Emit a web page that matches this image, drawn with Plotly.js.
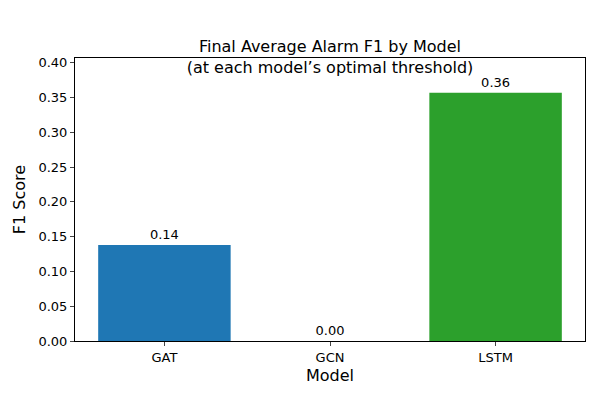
<!DOCTYPE html>
<html><head><script src="https://cdn.plot.ly/plotly-3.0.1.min.js"></script></head>
<body style="margin:0">
<div id="c" style="width:600px;height:400px"></div>
<script>
const models = ["GAT", "GCN", "LSTM"];
const f1 = [0.138, 0.0, 0.357];
const labels = ["0.14", "0.00", "0.36"];
const colors = ["#1f77b4", "#ff7f0e", "#2ca02c"];
Plotly.newPlot("c", [{
  type: "bar", x: [0,1,2], y: f1, width: 0.8,
  marker: {color: colors},
  text: labels, textposition: "outside", cliponaxis: false,
  textfont: {size: 13, color: "#000"}
}], {
  width: 600, height: 400,
  font: {family: "DejaVu Sans", size: 13, color: "#000"},
  title: {text: "Final Average Alarm F1 by Model<br>(at each model’s optimal threshold)", x: 0.55, xanchor: "center",
    yref: "paper", y: 1, yanchor: "bottom", pad: {b: 6}, font: {size: 16}},
  margin: {l: 75, r: 15, t: 58, b: 59},
  plot_bgcolor: "#fff", paper_bgcolor: "#fff",
  xaxis: {range: [-0.54, 2.54], tickvals: [0,1,2], ticktext: models, showgrid: false, zeroline: false,
    showline: true, mirror: true, linecolor: "#000", ticks: "outside", ticklen: 4,
    title: {text: "Model", standoff: 6}},
  yaxis: {range: [0, 0.407], dtick: 0.05, tickformat: ".2f", showgrid: false, zeroline: false,
    showline: true, mirror: true, linecolor: "#000", ticks: "outside", ticklen: 4,
    title: {text: "F1 Score", standoff: 8}},
  showlegend: false
}, {displayModeBar: false});
</script></body></html>
